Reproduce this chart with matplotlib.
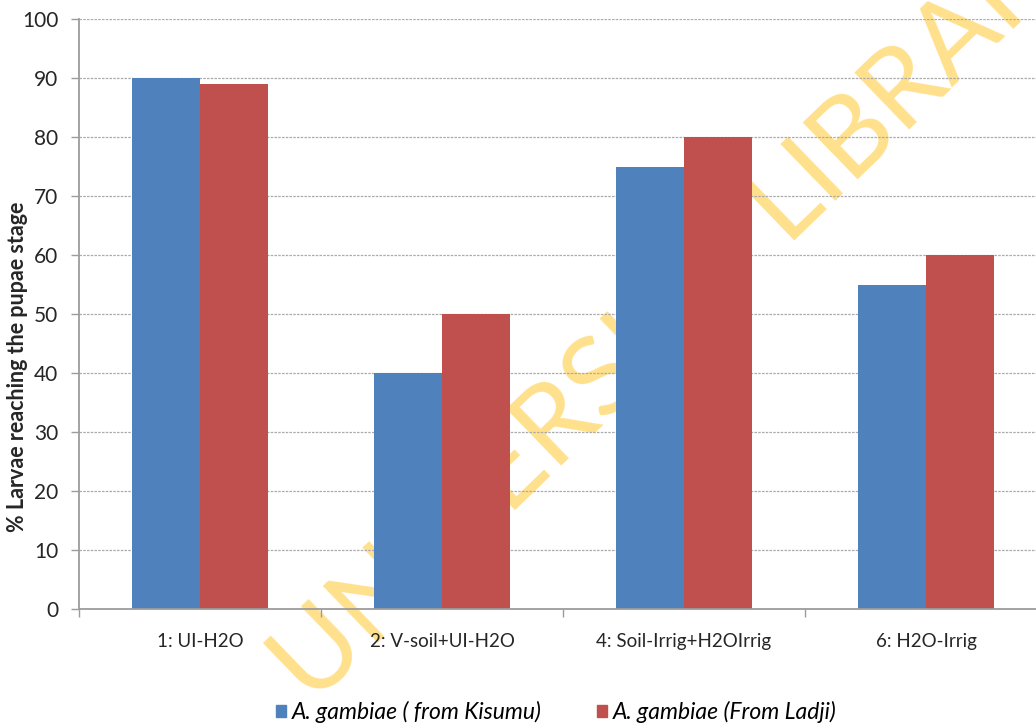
import matplotlib
matplotlib.use("Agg")
import matplotlib.pyplot as plt
from matplotlib.patches import Patch

# pupation success per rearing treatment, two mosquito strains
treatments = ["1: UI-H2O", "2: V-soil+UI-H2O", "4: Soil-Irrig+H2OIrrig", "6: H2O-Irrig"]
kisumu = [90, 40, 75, 55]
ladji = [89, 50, 80, 60]
strain_names = ["A. gambiae ( from Kisumu)", "A. gambiae (From Ladji)"]
y_ticks = [0, 10, 20, 30, 40, 50, 60, 70, 80, 90, 100]

BLUE = "#4F81BD"
RED = "#C0504D"
GRID = "#ABABAB"
AXIS = "#9C9C9C"
TEXT = "#262626"

plt.rcParams["font.family"] = ["Lato", "DejaVu Sans"]

W, H = 1036, 726
fig = plt.figure(figsize=(W / 100, H / 100), dpi=100)
ax = fig.add_axes([79 / W, 1 - 609 / H, (1047 - 79) / W, (609 - 19) / H])

x = list(range(len(treatments)))
width = 0.28
ax.bar([i - width / 2 for i in x], kisumu, width, color=BLUE, zorder=2)
ax.bar([i + width / 2 for i in x], ladji, width, color=RED, zorder=2)

ax.set_xlim(-0.5, len(treatments) - 0.5)
ax.set_ylim(0, 100)
ax.set_yticks(y_ticks)
ax.set_xticks(x)
ax.set_xticklabels(treatments)
ax.set_xticks([i - 0.5 for i in x], minor=True)

ax.tick_params(axis="x", which="major", length=0, pad=17, labelsize=13.5, labelcolor=TEXT)
ax.tick_params(axis="x", which="minor", length=6, width=1, color=AXIS)
ax.tick_params(axis="y", length=6, width=1, color=AXIS, pad=9, labelsize=15, labelcolor=TEXT)

for side in ["top", "right"]:
    ax.spines[side].set_visible(False)
for side in ["left", "bottom"]:
    ax.spines[side].set_color(AXIS)
    ax.spines[side].set_linewidth(1.3)

ax.set_axisbelow(True)
ax.yaxis.grid(True, color=GRID, linestyle=(0, (2, 1)), linewidth=0.9)

fig.text(18 / W, 1 - 367 / H, "% Larvae reaching the pupae stage", rotation=90,
         ha="center", va="center", fontsize=15.5, fontweight="bold", color=TEXT)

# library watermark, sits behind the bars and grid
ax.text(312 / W, 1 - 706 / H, "UNIVERSITY LIBRARY", transform=fig.transFigure,
        rotation=44, rotation_mode="anchor", ha="left", va="baseline",
        fontsize=80, color="#FFE08C", zorder=0.3, clip_on=False)

handles = [Patch(color=BLUE), Patch(color=RED)]
fig.legend(handles, strain_names, loc="center", bbox_to_anchor=(556 / W, 1 - 712 / H),
           ncol=2, frameon=False, handlelength=0.45, handleheight=0.45, handletextpad=0.25,
           columnspacing=2.4, prop={"style": "italic", "size": 16.5})

fig.savefig("out.png", dpi=100)
